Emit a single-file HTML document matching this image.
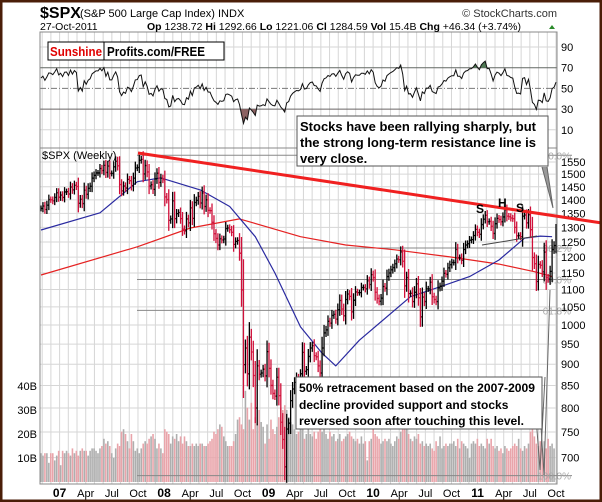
<!DOCTYPE html>
<html><head><meta charset="utf-8"><style>
html,body{margin:0;padding:0;background:#fff}
svg{display:block;font-family:"Liberation Sans",Arial,sans-serif}
</style></head><body>
<svg id="chart" width="602" height="502" viewBox="0 0 602 502">
<rect x="0" y="0" width="602" height="502" fill="#fff"/>
<g id="grid"></g>
<g id="vol"></g>
<g id="fib"></g>
<g id="ma"></g>
<g id="bars"></g>
<g id="rsi"></g>
<g id="axes"></g>
<g id="ann"></g>
<rect x="1" y="1" width="600" height="500" fill="none" stroke="#4a1e08" stroke-width="3"/>
</svg>
<script>
const closes=[1368,1377,1364,1380,1401,1400,1396,1409,1427,1410,1418,
1409,1430,1431,1422,1449,1438,1456,1451,1387,1402,1386,1437,1421,1444,1452,1484,1495,1505,1505,1523,1515,1536,1507,1533,1503,1503,1530,1553,1534,1459,1434,1453,1445,1479,1474,1454,1484,1525,1527,1557,1561,1501,1535,1509,1453,1458,1440,1481,1504,1467,1484,1478,
1411,1401,1325,1330,1396,1331,1349,1353,1331,1294,1288,1330,1316,1370,1332,1390,1398,1413,1388,1426,1375,1400,1361,1360,1318,1278,1262,1240,1261,1257,1260,1296,1298,1292,1283,1242,1252,1255,1213,1099,899,940,877,968,930,873,800,896,876,879,888,872,
931,890,850,832,826,869,827,770,735,683,756,768,816,842,857,869,866,877,929,883,887,919,940,946,921,918,896,879,940,979,987,1010,1005,1026,1029,1016,1042,1068,1044,1025,1071,1087,1080,1036,1069,1093,1091,1091,1106,1106,1102,1126,1115,
1145,1136,1092,1074,1066,1075,1109,1104,1139,1150,1160,1167,1179,1194,1192,1217,1187,1111,1136,1088,1089,1065,1092,1117,1076,1022,1078,1065,1102,1102,1122,1079,1071,1065,1105,1110,1125,1149,1146,1166,1176,1183,1183,1225,1199,1199,1190,1225,1240,1244,1256,1258,
1272,1293,1283,1276,1310,1329,1343,1320,1321,1304,1279,1313,1332,1328,1320,1337,1363,1340,1338,1333,1331,1300,1271,1272,1268,1340,1344,1316,1345,1292,1199,1179,1124,1177,1174,1154,1216,1136,1131,1155,1225,1238,1285];
const volumes=[12,11,12,12,8,12,12,9,11,13,7,
13,12,13,12,11,14,12,13,11,13,14,13,13,11,13,14,14,13,12,14,15,18,16,17,15,12,10,14,16,15,21,22,20,17,14,20,17,13,14,12,14,16,17,16,18,19,20,18,14,16,14,12,
22,21,20,16,19,18,20,17,19,16,19,17,15,15,16,15,16,15,16,16,15,15,16,17,18,21,20,22,24,23,19,17,15,15,15,17,20,26,27,24,22,38,31,26,33,22,27,24,30,25,23,16,
24,18,26,22,20,23,27,31,30,32,30,27,25,24,22,20,21,23,22,18,20,22,20,19,21,18,21,22,21,23,20,18,21,19,20,17,18,20,17,18,19,20,21,19,18,17,18,16,19,16,17,9,
17,18,22,20,19,18,16,17,18,17,18,16,15,17,19,18,21,26,22,24,20,18,17,19,18,20,16,17,15,16,15,16,14,13,17,15,19,14,15,16,15,16,16,17,15,18,14,17,16,15,14,10,
16,17,16,18,15,16,15,14,18,16,18,15,14,15,13,14,12,15,14,13,14,15,16,15,18,14,13,15,14,16,21,23,19,16,15,17,14,17,14,18,15,16,14];
const blueWeeks=[0,30,49,61,81,96,109,119,132,143,150,162,188,203,218,233,246,254,260];
const blueVals=[1291,1352,1470,1485,1438,1375,1268,1150,995,927,896,960,1079,1108,1139,1191,1263,1270,1268];
const redWeeks=[0,49,76,101,132,155,180,208,233,251,260];
const redVals=[1144,1234,1298,1330,1268,1240,1224,1201,1178,1154,1139];
const priceTicks=[1550,1500,1450,1400,1350,1300,1250,1200,1150,1100,1050,1000,950,900,850,800,750,700];
const rsiTicks=[90,70,50,30,10];
const volTicks=[10,20,30,40];
const fibLevels=[["0.0%",1578],["38.2%",1230],["50.0%",1130],["61.8%",1040],["100.0%",667]];
const monthLabels=["07","Apr","Jul","Oct","08","Apr","Jul","Oct","09","Apr","Jul","Oct","10","Apr","Jul","Oct","11","Apr","Jul","Oct"];

const NS="http://www.w3.org/2000/svg";
function mk(parent,tag,attrs,text){const e=document.createElementNS(NS,tag);for(const k in attrs)e.setAttribute(k,attrs[k]);if(text!==undefined)e.textContent=text;parent.appendChild(e);return e;}
const L=40,R=557,N=closes.length,STEP=(R-L)/N;
const xw=i=>L+(i+0.5)*STEP;
const yp=p=>325-372*Math.log(p/1000);
const yr=v=>47+(90-v)*1.035;
const yv=v=>482-v*2.4;
const xm=k=>59.6+k*104.5/12;
const G=id=>document.getElementById(id);

const grid=G('grid');
for(let k=-2;k<=58;k++){const x=xm(k);if(x<L||x>R)continue;
 let l=mk(grid,'line',{x1:x,x2:x,y1:32,y2:484,stroke:'#d6d6d6','stroke-width':1});
 
 }
priceTicks.forEach(p=>{let l=mk(grid,'line',{x1:L,x2:R,y1:yp(p),y2:yp(p),stroke:'#d6d6d6'});
 
 });
[90,10].forEach(v=>{let l=mk(grid,'line',{x1:L,x2:R,y1:yr(v),y2:yr(v),stroke:'#d6d6d6'});
 
 });
[30,70].forEach(v=>{let l=mk(grid,'line',{x1:L,x2:R,y1:yr(v),y2:yr(v),stroke:'#666'});
 
 });
{let l=mk(grid,'line',{x1:L,x2:R,y1:yr(50),y2:yr(50),stroke:'#777','stroke-dasharray':'6,2,1,2'});
 
 }

const vol=G('vol');
volumes.forEach((v,i)=>{const down=i>0&&closes[i]<closes[i-1];
 let r=mk(vol,'rect',{x:xw(i)-0.8,y:yv(v),width:1.6,height:482-yv(v),fill:down?'#e9a4aa':'#aeaeae'});
 
 });

const fib=G('fib');
fibLevels.forEach(f=>{const y=yp(f[1]);
 let l=mk(fib,'line',{x1:137,x2:572,y1:y,y2:y,stroke:'#888'});
 
 
 let t=mk(fib,'text',{x:571,y:y+4,'font-size':10,fill:'#aaa','text-anchor':'end'},f[0]);
 
 });

const ma=G('ma');
function poly(ws,vs,color,name){const d=ws.map((w,j)=>(j?'L':'M')+xw(w).toFixed(1)+','+yp(vs[j]).toFixed(1)).join('');
 let p=mk(ma,'path',{d:d,fill:'none',stroke:color,'stroke-width':1.2,'stroke-linejoin':'round'});
 
 }
poly(redWeeks,redVals,'#e52222','long-moving-average');
poly(blueWeeks,blueVals,'#2a2aa0','short-moving-average');

const bars=G('bars');
closes.forEach((c,i)=>{const o=i?closes[i-1]:c;const r=0.008+Math.abs(c-o)/c*0.35;
 const hi=Math.max(o,c)*(1+r),lo=Math.min(o,c)*(1-r);const x=xw(i);const col=c<o?'#d0103a':'#000';
 let g=mk(bars,'path',{d:`M${x},${yp(hi)}V${yp(lo)}M${x-1},${yp(o)}H${x}M${x},${yp(c)}H${x+1}`,stroke:col,'stroke-width':1.3,fill:'none'});
 
 });

const rsiG=G('rsi');
let ag=9,al=6;const rsi=[];
closes.forEach((c,i)=>{if(i){const d=c-closes[i-1];ag=(ag*13+Math.max(d,0))/14;al=(al*13+Math.max(-d,0))/14;}rsi.push(100-100/(1+ag/al));});
const rd=rsi.map((v,i)=>(i?'L':'M')+xw(i).toFixed(1)+','+yr(v).toFixed(1)).join('');
const defs=mk(rsiG,'defs',{});
const c1=mk(defs,'clipPath',{id:'cLow'});mk(c1,'rect',{x:L,y:yr(30),width:R-L,height:40});
const c2=mk(defs,'clipPath',{id:'cHigh'});mk(c2,'rect',{x:L,y:0,width:R-L,height:yr(70)});
{let f=mk(rsiG,'path',{d:rd+`L${R},${yr(30)}L${L},${yr(30)}Z`,fill:'#8c6262','clip-path':'url(#cLow)'});
 
 
 let f2=mk(rsiG,'path',{d:rd+`L${R},${yr(70)}L${L},${yr(70)}Z`,fill:'#4f7a55','clip-path':'url(#cHigh)'});
 
 
 let p=mk(rsiG,'path',{d:rd,fill:'none',stroke:'#111','stroke-width':1});
 
 }

const ax=G('axes');
mk(ax,'rect',{x:L,y:32,width:R-L,height:452,fill:'none',stroke:'#888'});
mk(ax,'line',{x1:L,x2:R,y1:148,y2:148,stroke:'#888'});
priceTicks.forEach(p=>{let t=mk(ax,'text',{x:561,y:yp(p)+4,'font-size':11,fill:'#000'},String(p));
 
 });
rsiTicks.forEach(v=>{let t=mk(ax,'text',{x:561,y:yr(v)+4,'font-size':11,fill:'#000'},String(v));
 
 });
volTicks.forEach(v=>{let t=mk(ax,'text',{x:37,y:yv(v)+4,'font-size':11,'text-anchor':'end',fill:'#000'},v+'B');
 
 });
monthLabels.forEach((m,k)=>{const bold=/\d/.test(m);
 let t=mk(ax,'text',{x:xm(k*3),y:497,'font-size':bold?12:11,'font-weight':bold?'bold':'normal','text-anchor':'middle',fill:'#000'},m);
 
 });
</script>
<script>
const an=document.getElementById('ann');
an.innerHTML=`
<text x="40" y="18" font-size="16" font-weight="bold">$SPX</text>
<text x="80" y="17" font-size="11">(S&amp;P 500 Large Cap Index) INDX</text>
<text x="557" y="17" font-size="11" text-anchor="end" fill="#333">© StockCharts.com</text>
<text x="40" y="30" font-size="10.5">27-Oct-2011</text>
<text x="147" y="30" font-size="10.5"><tspan font-weight="bold">Op</tspan> 1238.72 <tspan font-weight="bold">Hi</tspan> 1292.66 <tspan font-weight="bold">Lo</tspan> 1221.06 <tspan font-weight="bold">Cl</tspan> 1284.59 <tspan font-weight="bold">Vol</tspan> 15.4B <tspan font-weight="bold">Chg</tspan> +46.34 (+3.74%)</text>
<path d="M549,29l3,-4l3,4z" fill="#2a8a2a"/>
<rect x="48" y="42" width="176" height="18" fill="#fff" stroke="#000"/>
<line x1="104" y1="42" x2="104" y2="60" stroke="#000"/>
<text x="50" y="56" font-size="12.5" font-weight="bold" fill="#e00000" textLength="52" lengthAdjust="spacingAndGlyphs">Sunshine</text>
<text x="107" y="56" font-size="12.5" font-weight="bold" textLength="98" lengthAdjust="spacingAndGlyphs">Profits.com/FREE</text>
<text x="42" y="159" font-size="11" fill="#000">$SPX (Weekly)</text>
<line x1="138" y1="153" x2="602" y2="223" stroke="#f02020" stroke-width="3"/>
<line x1="482" y1="245" x2="537" y2="236" stroke="#444" stroke-width="1"/>
<text x="476" y="213" font-size="12" font-weight="bold">S</text>
<text x="498" y="207" font-size="12" font-weight="bold">H</text>
<text x="516" y="212" font-size="12" font-weight="bold">S</text>
<path d="M542,167L553,208L547,167" fill="#999" stroke="#666"/>
<path d="M533,377L540,470L545,377" fill="none" stroke="#666"/>
<path d="M538,377L544,475L550,290" fill="none" stroke="#666"/>
<rect x="297" y="116" width="251" height="50" fill="#fff" stroke="#555"/>
<text font-size="13" font-weight="bold"><tspan x="300" y="131" textLength="236" lengthAdjust="spacingAndGlyphs">Stocks have been rallying sharply, but</tspan><tspan x="300" y="147" textLength="236" lengthAdjust="spacingAndGlyphs">the strong long-term resistance line is</tspan><tspan x="300" y="163">very close.</tspan></text>
<rect x="296" y="377" width="246" height="52" fill="#fff" stroke="#555"/>
<text font-size="12" font-weight="bold"><tspan x="299" y="392" textLength="236" lengthAdjust="spacingAndGlyphs">50% retracement based on the 2007-2009</tspan><tspan x="299" y="409">decline provided support and stocks</tspan><tspan x="299" y="425" textLength="225" lengthAdjust="spacingAndGlyphs">reversed soon after touching this level.</tspan></text>
`;
</script>
</body></html>
